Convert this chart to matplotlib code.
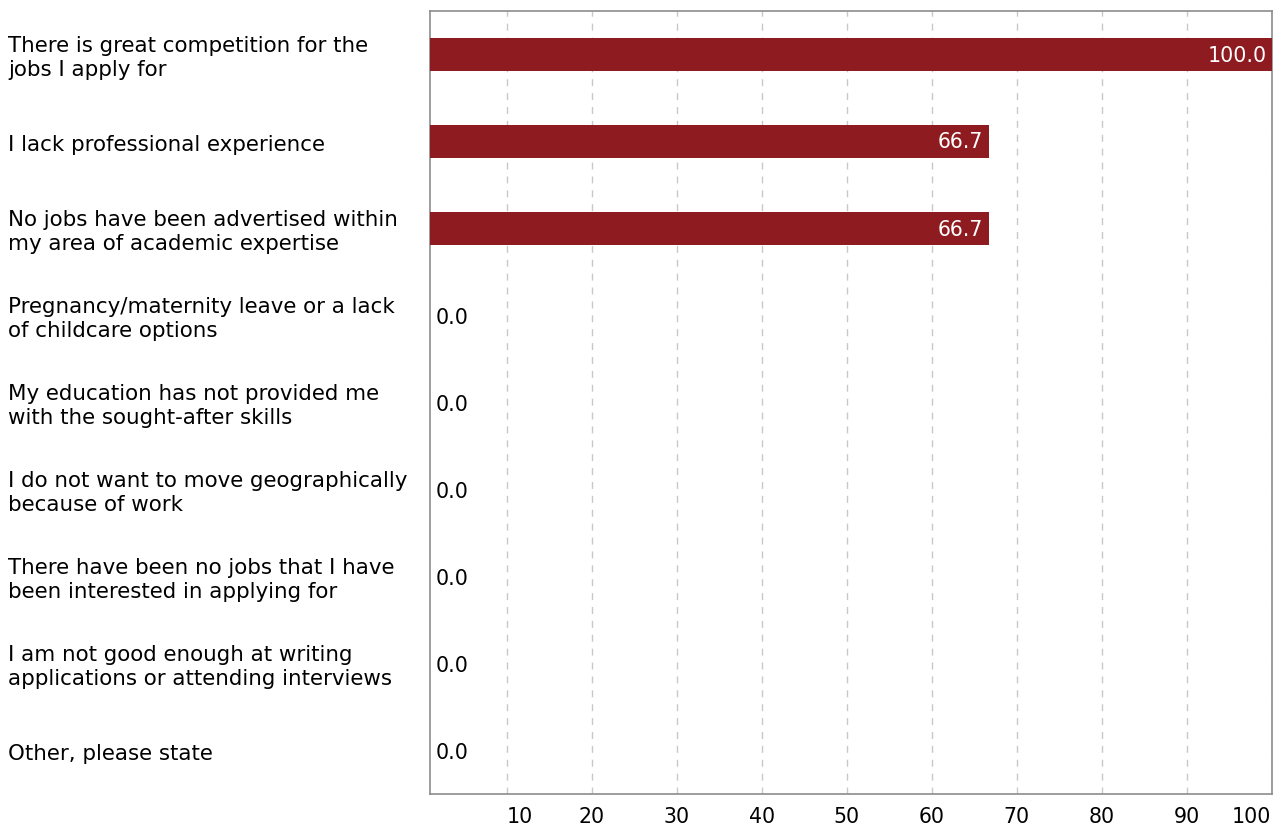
import matplotlib.pyplot as plt
import matplotlib.transforms as mtransforms

categories = [
    "There is great competition for the\njobs I apply for",
    "I lack professional experience",
    "No jobs have been advertised within\nmy area of academic expertise",
    "Pregnancy/maternity leave or a lack\nof childcare options",
    "My education has not provided me\nwith the sought-after skills",
    "I do not want to move geographically\nbecause of work",
    "There have been no jobs that I have\nbeen interested in applying for",
    "I am not good enough at writing\napplications or attending interviews",
    "Other, please state",
]
values = [100.0, 66.7, 66.7, 0.0, 0.0, 0.0, 0.0, 0.0, 0.0]
ticks = [10, 20, 30, 40, 50, 60, 70, 80, 90, 100]

bar_color = '#8e1b20'
fs = 14.8

fig = plt.figure(figsize=(12.82, 8.29), dpi=100)
ax = fig.add_axes([430 / 1282, 1 - 795 / 829, 842 / 1282, 783 / 829])

ypos = list(range(len(categories)))
ax.barh(ypos, values, height=0.38, color=bar_color, zorder=3)
ax.set_ylim(len(categories) - 0.5, -0.5)
ax.set_xlim(1, 100)

for y, v in zip(ypos, values):
    if v > 0:
        ax.annotate(f"{v:.1f}", (v, y), xytext=(-4, 0), textcoords='offset points',
                    ha='right', va='center', color='white', fontsize=fs, zorder=4)
    else:
        ax.annotate(f"{v:.1f}", (1, y), xytext=(4, -1), textcoords='offset points',
                    ha='left', va='center', color='black', fontsize=fs, zorder=4)

ax.set_yticks(ypos)
ax.set_yticklabels([])
tr = mtransforms.blended_transform_factory(fig.transFigure, ax.transData)
for y, c in zip(ypos, categories):
    ax.text(8 / 1282, y + 0.03, c, transform=tr, ha='left', va='center',
            fontsize=15.4, linespacing=1.22)

ax.set_xticks(ticks)
ax.set_xticklabels([str(t) for t in ticks], fontsize=fs)
ax.tick_params(axis='both', length=0)
ax.tick_params(axis='x', pad=9)
labels = ax.get_xticklabels()
labels[0].set_transform(labels[0].get_transform() + mtransforms.ScaledTranslation(0.13, 0, fig.dpi_scale_trans))
labels[-1].set_transform(labels[-1].get_transform() + mtransforms.ScaledTranslation(-0.21, 0, fig.dpi_scale_trans))

ax.grid(axis='x', color='#c8c8c8', linestyle=(0, (5, 5)), linewidth=1, zorder=0)
for s in ax.spines.values():
    s.set_color('#8c8c8c')
    s.set_linewidth(1.2)

fig.savefig('out.png', dpi=100)
